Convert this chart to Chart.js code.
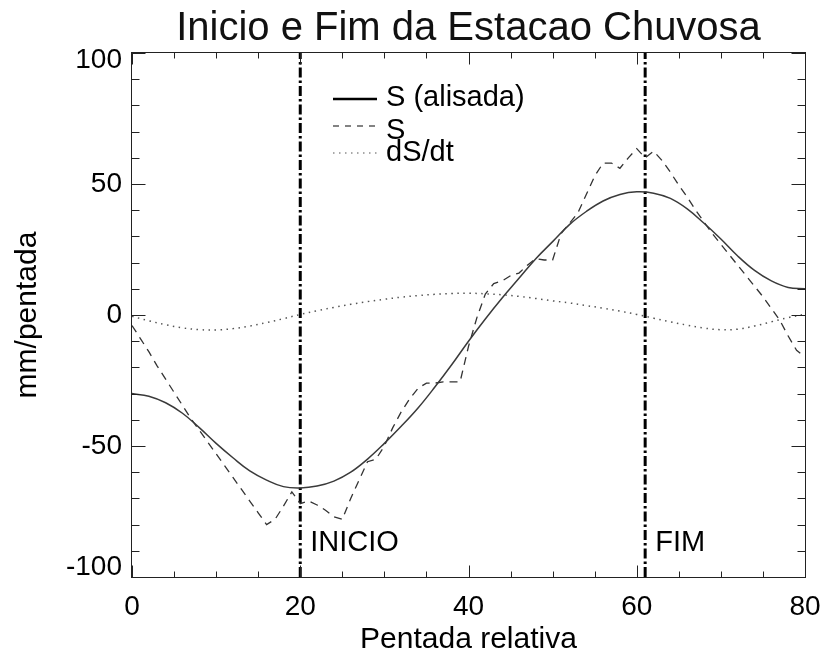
<!DOCTYPE html>
<html>
<head>
<meta charset="utf-8">
<title>Inicio e Fim da Estacao Chuvosa</title>
<script src="https://cdn.jsdelivr.net/npm/chart.js@4.4.1/dist/chart.umd.min.js"></script>
<style>
  html, body { margin: 0; padding: 0; background: #fff; }
  #chart { display: block; }
</style>
</head>
<body>
<canvas id="chart" width="826" height="656"></canvas>
<script>
(function () {
  'use strict';

  // --- Values ---
  // smoothed S, sampled every 2 pentads
  const smoothX = [0, 2, 4, 6, 8, 10, 12, 14, 16, 18, 20, 22, 24, 26, 28, 30, 32, 34, 36, 38,
    40, 42, 44, 46, 48, 50, 52, 54, 56, 58, 60, 62, 64, 66, 68, 70, 72, 74, 76, 78, 80];
  const smoothS = [-30, -31, -33.5, -37.5, -43, -49, -54.5, -59.5, -63, -65.5, -66, -65.3, -63.4,
    -60, -55, -49, -42.5, -35.5, -27.5, -19, -10, -1.5, 6.5, 14, 21.5, 28, 34.5, 39.5, 43.5, 46,
    47, 46.5, 44.5, 40.5, 35, 29, 22.5, 17, 13, 10.5, 10];
  const derivS = [-0.5, -2.2, -3.7, -4.9, -5.6, -5.7, -5.2, -4.2, -2.9, -1.4, 0.2, 1.6, 2.9, 4.1,
    5.1, 6.0, 6.8, 7.4, 7.9, 8.2, 8.3, 8.1, 7.7, 7.1, 6.3, 5.4, 4.6, 3.6, 2.6, 1.5, 0.2, -1.2,
    -2.6, -3.9, -5.0, -5.6, -5.4, -4.2, -2.6, -1.0, 0.3];
  // raw S, one value per pentad (0..80)
  const rawS = [-4, -9, -14, -19.5, -24.5, -29.5, -34.5, -39.5, -44, -48.5, -53, -57.5, -62, -66.5,
    -71, -75.5, -80, -78, -73, -67.5, -72, -71, -72.5, -74.5, -77, -78, -70, -63, -56, -55, -50,
    -43, -37, -32, -28, -26, -26, -25.5, -25.5, -25.5, -12, -1, 8, 12, 13, 15, 16, 19, 21.5, 21,
    21, 31, 35, 39, 46, 53, 58, 58, 56, 60, 63.5, 60, 62.5, 59, 54.5, 49.5, 45, 40, 35.5, 31, 27,
    23, 19, 15, 11, 7, 2.5, -2, -8, -13.5, -16];

  const markerX = [20, 61];
  const markerText = ['INICIO', 'FIM'];
  const markerLabelY = -90;

  const xTickLabels = [0, 20, 40, 60, 80];
  const xTickMarks = [0, 5, 10, 15, 20, 25, 30, 35, 40, 45, 50, 55, 60, 65, 70, 75, 80];
  const yTickLabels = [100, 50, 0, -50, -100];
  const yTickMarks = [-100, -90, -80, -70, -60, -50, -40, -30, -20, -10, 0, 10, 20, 30, 40, 50,
    60, 70, 80, 90, 100];

  const FONT = "'Liberation Sans', Arial, Helvetica, sans-serif";
  Chart.defaults.font.family = FONT;
  Chart.defaults.color = '#000';

  // --- Frame, inward ticks, y labels, legend and marker text ---
  const idlFrame = {
    id: 'idlFrame',
    afterDatasetsDraw(chart) {
      const { ctx, chartArea: a, scales: { x, y } } = chart;
      ctx.save();
      ctx.strokeStyle = '#222';
      ctx.lineWidth = 1;
      const L = Math.round(a.left) - 0.5, R = Math.round(a.right) + 0.5;
      const T = Math.round(a.top) - 0.5, B = Math.round(a.bottom) + 0.5;
      ctx.strokeRect(L, T, R - L, B - T);

      ctx.beginPath();
      xTickMarks.forEach(v => {
        const px = Math.round(x.getPixelForValue(v)) + 0.5;
        const len = xTickLabels.includes(v) ? 12 : 6;
        ctx.moveTo(px, B); ctx.lineTo(px, B - len);
        ctx.moveTo(px, T); ctx.lineTo(px, T + len);
      });
      yTickMarks.forEach(v => {
        const py = Math.round(y.getPixelForValue(v)) + 0.5;
        const len = yTickLabels.includes(v) ? 14 : 8;
        ctx.moveTo(L, py); ctx.lineTo(L + len, py);
        ctx.moveTo(R, py); ctx.lineTo(R - len, py);
      });
      ctx.stroke();

      // y tick labels, kept inside the frame at the ends
      ctx.fillStyle = '#000';
      ctx.font = '28px ' + FONT;
      ctx.textAlign = 'right';
      ctx.textBaseline = 'middle';
      yTickLabels.forEach(v => {
        let py = y.getPixelForValue(v);
        py = Math.min(Math.max(py, a.top + 7), a.bottom - 10);
        ctx.fillText(String(v), a.left - 10, py);
      });

      // marker labels
      ctx.textAlign = 'left';
      ctx.textBaseline = 'alphabetic';
      ctx.font = '29px ' + FONT;
      markerX.forEach((v, i) => {
        ctx.fillText(markerText[i], x.getPixelForValue(v) + 10, y.getPixelForValue(markerLabelY));
      });

      // legend
      const samples = [
        { base: 106, lineY: 99, width: 2.5, dash: [], color: '#000' },
        { base: 139, lineY: 126, width: 1.2, dash: [6, 6], color: '#333' },
        { base: 161, lineY: 153, width: 1.2, dash: [1.5, 4.5], color: '#555' }
      ];
      samples.forEach((s, i) => {
        ctx.beginPath();
        ctx.setLineDash(s.dash);
        ctx.lineWidth = s.width;
        ctx.strokeStyle = s.color;
        ctx.moveTo(333, s.lineY);
        ctx.lineTo(377, s.lineY);
        ctx.stroke();
        ctx.fillText(chart.data.datasets[i].label, 386, s.base);
      });
      ctx.restore();
    }
  };

  const markerSets = markerX.map((v, i) => ({
    label: markerText[i],
    data: [{ x: v, y: -100 }, { x: v, y: 100 }],
    borderColor: '#000',
    borderWidth: 3,
    borderDash: [10, 3, 2.5, 3],
    pointRadius: 0,
    tension: 0
  }));

  new Chart(document.getElementById('chart'), {
    type: 'line',
    data: {
      datasets: [
        {
          label: 'S (alisada)',
          data: smoothX.map((v, i) => ({ x: v, y: smoothS[i] })),
          borderColor: '#3a3a3a',
          borderWidth: 1.5,
          pointRadius: 0,
          tension: 0.4
        },
        {
          label: 'S',
          data: rawS.map((v, i) => ({ x: i, y: v })),
          borderColor: '#333',
          borderWidth: 1.3,
          borderDash: [8, 6],
          pointRadius: 0,
          tension: 0
        },
        {
          label: 'dS/dt',
          data: smoothX.map((v, i) => ({ x: v, y: derivS[i] })),
          borderColor: '#555',
          borderWidth: 1.5,
          borderDash: [1.5, 4.5],
          pointRadius: 0,
          tension: 0.4
        },
        ...markerSets
      ]
    },
    options: {
      responsive: false,
      animation: false,
      events: [],
      layout: { padding: { left: 0, right: 21, top: 0, bottom: 0 } },
      plugins: {
        legend: { display: false },
        tooltip: { enabled: false },
        title: {
          display: true,
          fullSize: false,
          text: 'Inicio e Fim da Estacao Chuvosa',
          color: '#111',
          font: { size: 40, weight: 'normal', lineHeight: 1 },
          padding: { top: 9, bottom: 4 }
        }
      },
      scales: {
        x: {
          type: 'linear',
          min: 0,
          max: 80,
          border: { display: false },
          grid: { display: false, drawTicks: false },
          ticks: { stepSize: 20, padding: 13, color: '#000', font: { size: 28 } },
          title: {
            display: true,
            text: 'Pentada relativa',
            color: '#000',
            font: { size: 30, lineHeight: 1 },
            padding: { top: 0, bottom: 1 }
          },
          afterFit(s) {
            s.height = 79;
            s.paddingLeft = 0;
            s.paddingRight = 0;
          }
        },
        y: {
          type: 'linear',
          min: -100,
          max: 100,
          border: { display: false },
          grid: { display: false, drawTicks: false },
          ticks: { display: false },
          title: {
            display: true,
            text: 'mm/pentada',
            color: '#000',
            font: { size: 30, lineHeight: 1 },
            padding: { top: 13, bottom: 0 }
          },
          afterFit(s) { s.width = 132; }
        }
      }
    },
    plugins: [idlFrame]
  });
})();
</script>
</body>
</html>
